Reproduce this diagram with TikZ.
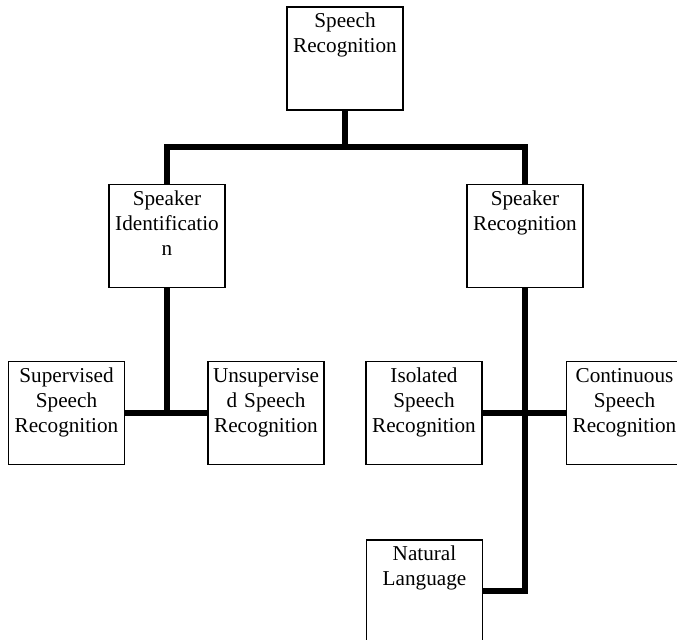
\documentclass[tikz,border=0pt]{standalone}
\usepackage{fontspec}
\setmainfont{Liberation Serif}
\usetikzlibrary{calc}

\begin{document}
\begin{tikzpicture}[x=0.5pt, y=-0.5pt,
	box/.style={draw, line width=0.9pt, inner sep=0pt, text width=58pt, align=center,
		text height=10.5pt, text depth=41pt, font=\fontsize{10.6}{12.5}\selectfont},
	conn/.style={line width=3pt}]
	\useasboundingbox (0,0) rectangle (677,640);
	
	%boxes
	\node[box] (sr) at (345,58.5) {Speech\\Recognition};
	\node[box] (si) at (167,236) {Speaker\\Identificatio\\n};
	\node[box] (spr) at (525,236) {Speaker\\Recognition};
	\node[box] (sup) at (66.5,413) {Supervised\\Speech\\Recognition};
	\node[box] (uns) at (266,413) {Unsupervise\\d Speech\\Recognition};
	\node[box] (iso) at (424,413) {Isolated\\Speech\\Recognition};
	\node[box] (con) at (624.5,413) {Continuous\\Speech\\Recognition};
	\node[box] (nl) at (424.5,591.5) {Natural\\Language};
	
	%connectors
	\coordinate (fork) at (345,147);
	\coordinate (lfork) at (si |- sup);
	\draw[conn] (sr) -- (fork);
	\draw[conn] (fork) -| (si);
	\draw[conn] (fork) -| (spr);
	\draw[conn] (si) -- (lfork);
	\draw[conn] (sup) -- (uns);
	\draw[conn] (iso) -- (con);
	\draw[conn] (spr) |- (nl);
\end{tikzpicture}
\end{document}
